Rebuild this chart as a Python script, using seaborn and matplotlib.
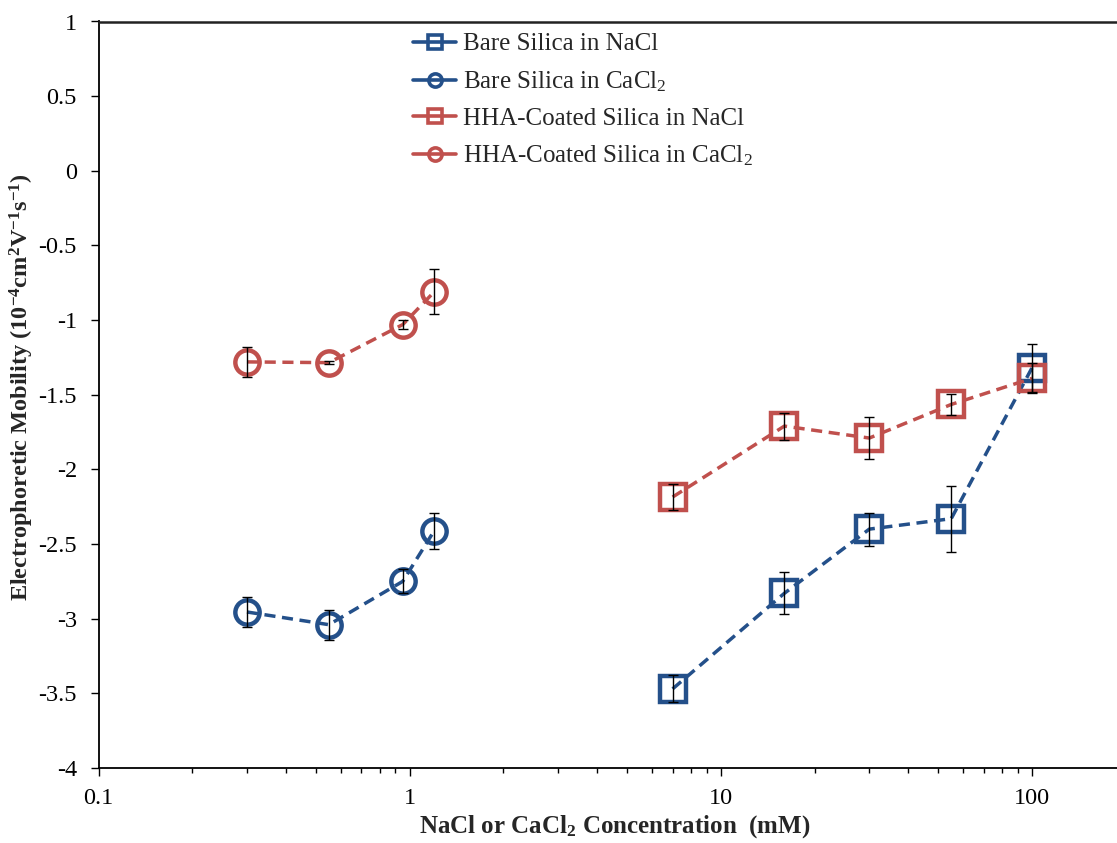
import numpy as np
import pandas as pd
import matplotlib
matplotlib.use("Agg")
import matplotlib.pyplot as plt
import seaborn as sns
from matplotlib.ticker import FixedLocator, FuncFormatter, LogLocator, NullFormatter

# ---- data ----
nacl_conc = [7, 16, 30, 55, 100]
cacl2_conc = [0.3, 0.55, 0.95, 1.2]
bare_nacl = [-3.47, -2.83, -2.40, -2.33, -1.32]
bare_nacl_err = [0.09, 0.14, 0.11, 0.22, 0.16]
bare_cacl2 = [-2.955, -3.04, -2.75, -2.41]
bare_cacl2_err = [0.10, 0.10, 0.08, 0.12]
hha_nacl = [-2.185, -1.71, -1.79, -1.565, -1.39]
hha_nacl_err = [0.09, 0.09, 0.14, 0.07, 0.10]
hha_cacl2 = [-1.28, -1.285, -1.03, -0.81]
hha_cacl2_err = [0.10, 0.01, 0.03, 0.15]

series_labels = ["Bare Silica in NaCl", "Bare Silica in CaCl$_2$",
                 "HHA-Coated Silica in NaCl", "HHA-Coated Silica in CaCl$_2$"]
x_ticks = [0.1, 1, 10, 100]
y_ticks = [1, 0.5, 0, -0.5, -1, -1.5, -2, -2.5, -3, -3.5, -4]
x_label = "NaCl or CaCl$_\\mathbf{2}$ Concentration  (mM)"
y_label = "Electrophoretic Mobility (10$^\\mathbf{-4}$cm$^\\mathbf{2}$V$^\\mathbf{-1}$s$^\\mathbf{-1}$)"

BLUE = "#24508A"
RED = "#C0504D"

sns.set_theme(style="white")
plt.rcParams["font.family"] = ["Liberation Serif", "DejaVu Serif"]
plt.rcParams["mathtext.fontset"] = "custom"
plt.rcParams["mathtext.rm"] = "Liberation Serif"
plt.rcParams["mathtext.it"] = "Liberation Serif:italic"
plt.rcParams["mathtext.bf"] = "Liberation Serif:bold"
plt.rcParams["axes.unicode_minus"] = False

W, H = 1117, 843
fig = plt.figure(figsize=(W / 100, H / 100), dpi=100)
left_px, right_px, top_px, bot_px = 98.5, 1117, 21.5, 768
ax = fig.add_axes([left_px / W, (H - bot_px) / H, (right_px - left_px) / W, (bot_px - top_px) / H])

specs = [
    (nacl_conc, bare_nacl, bare_nacl_err, "s", BLUE, series_labels[0]),
    (cacl2_conc, bare_cacl2, bare_cacl2_err, "o", BLUE, series_labels[1]),
    (nacl_conc, hha_nacl, hha_nacl_err, "s", RED, series_labels[2]),
    (cacl2_conc, hha_cacl2, hha_cacl2_err, "o", RED, series_labels[3]),
]

for xs, ys, es, mk, col, lab in specs:
    df = pd.DataFrame({"x": xs, "y": ys})
    sns.lineplot(data=df, x="x", y="y", ax=ax, color=col, marker=mk,
                 markersize=19 if mk == "s" else 17.5, markeredgewidth=3.2,
                 markeredgecolor=col, markerfacecolor="none",
                 linewidth=2.5, linestyle=(0, (3.2, 1.9)), label=lab,
                 errorbar=None, sort=False, zorder=2)
    ax.errorbar(xs, ys, yerr=es, fmt="none", ecolor="black", elinewidth=1.0,
                capsize=3.8, capthick=1.0, zorder=3)

ax.set_xscale("log")
ax.set_xlim(0.1, 0.1 * 10 ** ((right_px - left_px) / ((1032 - left_px) / 3)))
ax.set_ylim(-4, 1)

ax.xaxis.set_major_locator(FixedLocator(x_ticks))
ax.xaxis.set_major_formatter(FuncFormatter(lambda v, p: f"{v:g}"))
ax.xaxis.set_minor_locator(LogLocator(base=10, subs=np.arange(2, 10)))
ax.xaxis.set_minor_formatter(NullFormatter())
ax.yaxis.set_major_locator(FixedLocator(y_ticks))
ax.yaxis.set_major_formatter(FuncFormatter(lambda v, p: f"{v:g}"))

ax.tick_params(axis="both", which="major", direction="out", length=5.5, width=1.0,
               colors="black", labelsize=17.5, left=True, bottom=True)
ax.tick_params(axis="x", which="minor", direction="out", length=3.5, width=1.0,
               colors="black", bottom=True)
ax.tick_params(axis="y", which="major", pad=10)
ax.tick_params(axis="x", which="major", pad=9)

for s in ["left", "bottom"]:
    ax.spines[s].set_color("black")
    ax.spines[s].set_linewidth(1.3)
ax.spines["top"].set_color("#222222")
ax.spines["top"].set_linewidth(1.8)
ax.spines["right"].set_visible(False)

ax.set_xlabel(x_label, fontsize=18, fontweight="bold")
ax.set_ylabel(y_label, fontsize=17.5, fontweight="bold")
ax.xaxis.set_label_coords((615 - left_px) / (right_px - left_px), (bot_px - 827) / (bot_px - top_px))
ax.xaxis.label.set_va("center")
ax.yaxis.set_label_coords((22 - left_px) / (right_px - left_px), (bot_px - 387) / (bot_px - top_px))
ax.yaxis.label.set_va("center")

handles, labels = ax.get_legend_handles_labels()
leg = ax.legend(handles, labels, loc="upper left",
                bbox_to_anchor=(413 / W, 1 - 33 / H), bbox_transform=fig.transFigure,
                frameon=False, fontsize=18, handlelength=1.72, handletextpad=0.28,
                labelspacing=0.55, borderpad=0, borderaxespad=0)
for h in leg.legend_handles:
    h.set_markersize(9.5)
    h.set_markeredgewidth(2.6)
    h.set_linestyle("-")
    h.set_linewidth(2.6)

fig.savefig("out.png", dpi=100)
